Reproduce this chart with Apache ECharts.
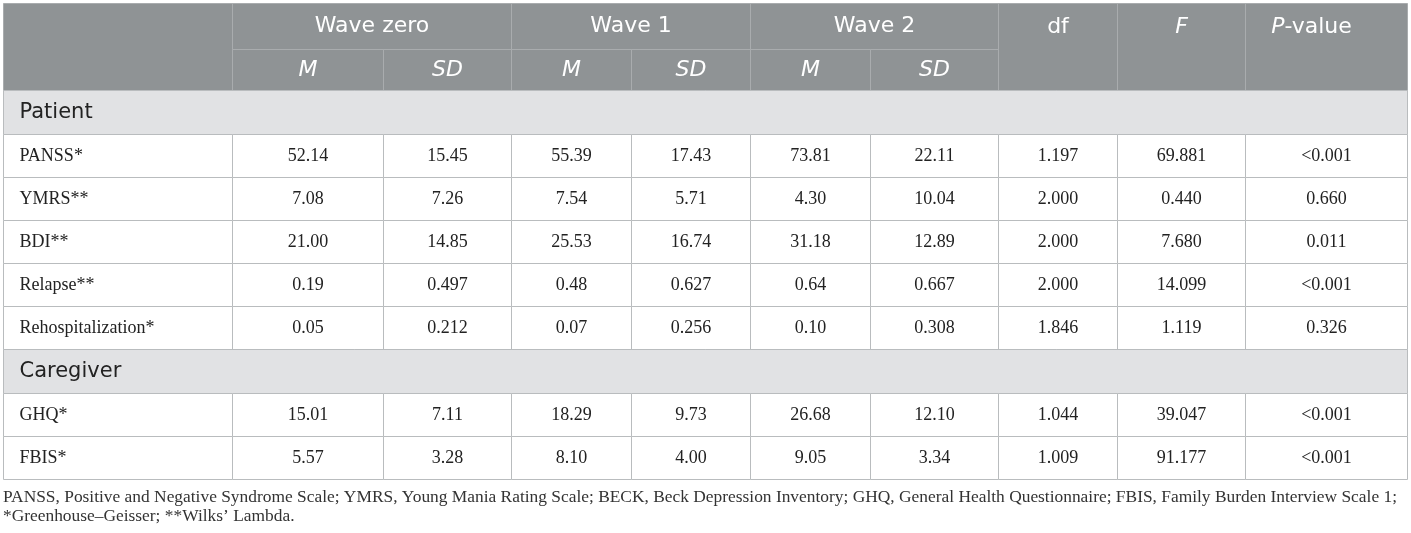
<!DOCTYPE html>
<html>
<head>
<meta charset="utf-8">
<script src="https://cdn.jsdelivr.net/npm/echarts@6/dist/echarts.min.js"></script>
<style>
  html, body { margin: 0; padding: 0; background: #fff; }
  #table-chart { width: 1411px; height: 533px; }
</style>
</head>
<body>
<div id="table-chart"></div>
<script>
// table content
const waves = ['Wave zero', 'Wave 1', 'Wave 2'];
const subHeads = ['M', 'SD'];
const statHeads = ['df', '{i|F}', '{i|P}-value'];
const sections = ['Patient', 'Caregiver'];
const patientMeasures = ['PANSS*', 'YMRS**', 'BDI**', 'Relapse**', 'Rehospitalization*'];
const patientValues = [
  ['52.14', '15.45', '55.39', '17.43', '73.81', '22.11', '1.197', '69.881', '<0.001'],
  ['7.08', '7.26', '7.54', '5.71', '4.30', '10.04', '2.000', '0.440', '0.660'],
  ['21.00', '14.85', '25.53', '16.74', '31.18', '12.89', '2.000', '7.680', '0.011'],
  ['0.19', '0.497', '0.48', '0.627', '0.64', '0.667', '2.000', '14.099', '<0.001'],
  ['0.05', '0.212', '0.07', '0.256', '0.10', '0.308', '1.846', '1.119', '0.326']
];
const caregiverMeasures = ['GHQ*', 'FBIS*'];
const caregiverValues = [
  ['15.01', '7.11', '18.29', '9.73', '26.68', '12.10', '1.044', '39.047', '<0.001'],
  ['5.57', '3.28', '8.10', '4.00', '9.05', '3.34', '1.009', '91.177', '<0.001']
];
const footnote = [
  'PANSS, Positive and Negative Syndrome Scale; YMRS, Young Mania Rating Scale; BECK, Beck Depression Inventory; GHQ, General Health Questionnaire; FBIS, Family Burden Interview Scale 1;',
  '*Greenhouse\u2013Geisser; **Wilks\u2019 Lambda.'
];

// layout (table units = px inside the grid)
const colEdges = [0, 229, 380, 508, 628, 747, 867, 995, 1114, 1242, 1404];
const colShift = [0, 0, 0, 0, 0, 0, 0, 0, 0, -15]; // last column text sits left of centre
const headRow1 = 46, headRow2 = 41, sectionRow = 44, dataRow = 43;

const HEAD_BG = '#8f9395', HEAD_LINE = '#a9acae';
const SECTION_BG = '#e1e2e4', LINE = '#b9bcbe';
const SANS = '"DejaVu Sans", "Open Sans", sans-serif';
const SERIF = '"Liberation Serif", "DejaVu Serif", serif';

const cells = [];
let y = 0;
// header
cells.push({ x0: colEdges[0], x1: colEdges[1], y0: 0, y1: headRow1 + headRow2, fill: HEAD_BG, stroke: HEAD_LINE });
waves.forEach((w, i) => {
  cells.push({ x0: colEdges[1 + 2 * i], x1: colEdges[3 + 2 * i], y0: 0, y1: headRow1, fill: HEAD_BG, stroke: HEAD_LINE,
    text: w, font: SANS, size: 22, color: '#fff', align: 'center' });
  subHeads.forEach((s, j) => {
    cells.push({ x0: colEdges[1 + 2 * i + j], x1: colEdges[2 + 2 * i + j], y0: headRow1, y1: headRow1 + headRow2,
      fill: HEAD_BG, stroke: HEAD_LINE, text: s, font: SANS, size: 22, italic: true, color: '#fff', align: 'center' });
  });
});
statHeads.forEach((s, i) => {
  cells.push({ x0: colEdges[7 + i], x1: colEdges[8 + i], y0: 0, y1: headRow1 + headRow2, fill: HEAD_BG, stroke: HEAD_LINE,
    text: s, font: SANS, size: 22, color: '#fff', align: 'center', textY: headRow1 / 2 + 1, dx: colShift[7 + i] });
});
y = headRow1 + headRow2;

function addSection(title, measures, values) {
  cells.push({ x0: colEdges[0], x1: colEdges[10], y0: y, y1: y + sectionRow, fill: SECTION_BG, stroke: LINE,
    text: title, font: SANS, size: 21, color: '#222', align: 'left' });
  y += sectionRow;
  measures.forEach((m, r) => {
    cells.push({ x0: colEdges[0], x1: colEdges[1], y0: y, y1: y + dataRow, fill: '#fff', stroke: LINE,
      text: m, font: SERIF, size: 18, color: '#222', align: 'left' });
    values[r].forEach((v, c) => {
      cells.push({ x0: colEdges[c + 1], x1: colEdges[c + 2], y0: y, y1: y + dataRow, fill: '#fff', stroke: LINE,
        text: v, font: SERIF, size: 18, color: '#222', align: 'center', dx: colShift[c] });
    });
    y += dataRow;
  });
}
addSection(sections[0], patientMeasures, patientValues);
addSection(sections[1], caregiverMeasures, caregiverValues);
const tableHeight = y;

const chart = echarts.init(document.getElementById('table-chart'));

function renderCell(params, api) {
  const c = cells[params.dataIndex];
  const a = api.coord([api.value(0), api.value(1)]);
  const b = api.coord([api.value(2), api.value(3)]);
  const x = Math.round(Math.min(a[0], b[0])) + 0.5;
  const top = Math.round(Math.min(a[1], b[1])) + 0.5;
  const w = Math.round(Math.abs(b[0] - a[0]));
  const h = Math.round(Math.abs(b[1] - a[1]));
  const children = [{
    type: 'rect',
    shape: { x: x, y: top, width: w, height: h },
    style: { fill: c.fill, stroke: c.stroke, lineWidth: 1 }
  }];
  if (c.text) {
    const ty = c.textY != null ? top + c.textY : top + h / 2;
    children.push({
      type: 'text',
      style: {
        text: c.text,
        x: c.align === 'left' ? x + 16 : x + w / 2 + (c.dx || 0),
        y: ty,
        align: c.align,
        verticalAlign: 'middle',
        fontFamily: c.font,
        fontSize: c.size,
        fontStyle: c.italic ? 'italic' : 'normal',
        fill: c.color,
        rich: { i: { fontStyle: 'italic', fontFamily: c.font, fontSize: c.size, fill: c.color } }
      }
    });
  }
  return { type: 'group', children: children };
}

chart.setOption({
  animation: false,
  grid: { left: 3, right: 4, top: 3, bottom: 533 - 3 - tableHeight },
  xAxis: { type: 'value', min: 0, max: colEdges[colEdges.length - 1], show: false },
  yAxis: { type: 'value', min: 0, max: tableHeight, inverse: true, show: false },
  series: [{
    type: 'custom',
    renderItem: renderCell,
    clip: false,
    encode: { x: [0, 2], y: [1, 3] },
    data: cells.map(c => [c.x0, c.y0, c.x1, c.y1])
  }],
  graphic: footnote.map((t, i) => ({
    type: 'text',
    left: 3,
    top: 489 + i * 19,
    style: { text: t, fontFamily: SERIF, fontSize: 17.4, fill: '#333' }
  }))
});
</script>
</body>
</html>
